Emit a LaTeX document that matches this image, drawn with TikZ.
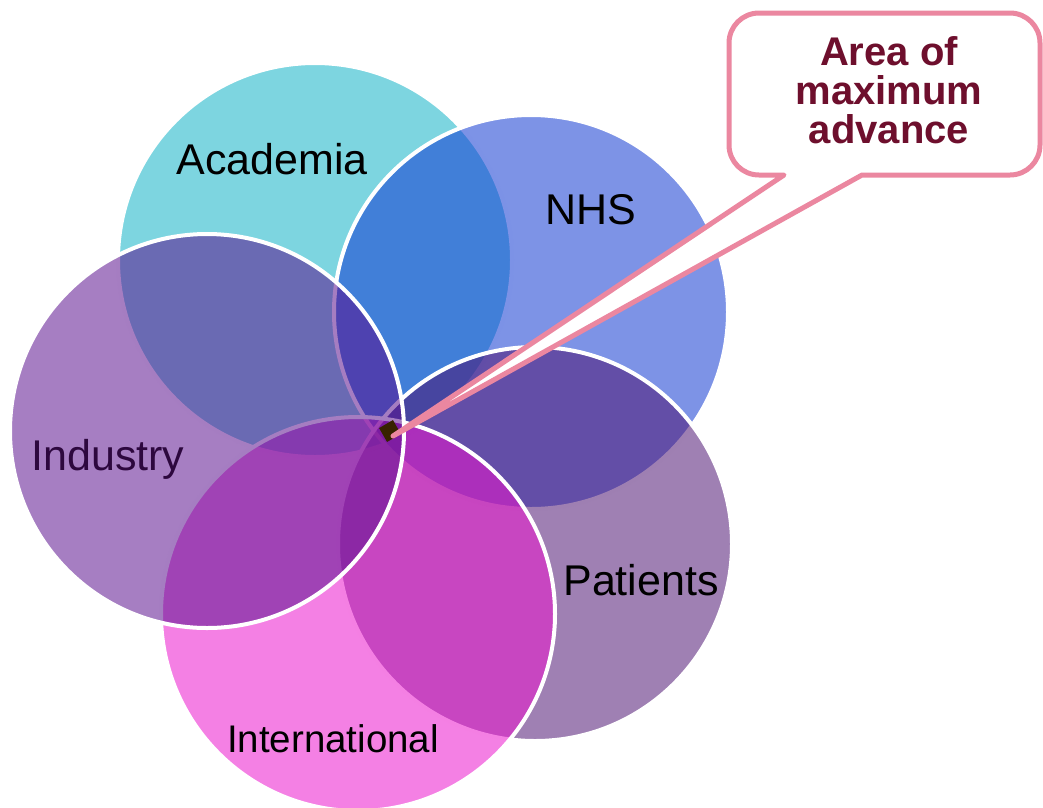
\documentclass[tikz,border=0pt]{standalone}
\usepackage{fontspec}
\setmainfont{Liberation Sans}
\definecolor{cAcad}{RGB}{14,177,198}
\definecolor{cNHS}{RGB}{14,55,209}
\definecolor{cInd}{RGB}{90,16,142}
\definecolor{cPat}{RGB}{77,20,114}
\definecolor{cInt}{RGB}{235,20,205}
\definecolor{calloutpink}{RGB}{235,135,160}
\definecolor{callouttext}{RGB}{110,15,45}
\definecolor{marker}{RGB}{55,35,0}
\definecolor{indtext}{RGB}{45,8,62}
\begin{document}
\begin{tikzpicture}[x=1pt,y=-1pt,
  ring/.style={circle, inner sep=0pt, outer sep=0pt, minimum size=394pt,
    draw=white, line width=4pt, fill opacity=0.54, draw opacity=1},
  label/.style={anchor=base, inner sep=0pt, font=\fontsize{43}{50}\selectfont},
  callout/.style={draw=calloutpink, fill=white, line width=5pt, line join=round},
]
\useasboundingbox (0,0) rectangle (1043,807);

% overlapping circles, lowest first
\node[ring, fill=cAcad] (acad) at (315,260) {};
\node[ring, fill=cNHS]  (nhs)  at (531,312) {};
\node[ring, fill=cPat]  (pat)  at (535,544) {};
\node[ring, fill=cInt]  (intl) at (358,614) {};
\node[ring, fill=cInd]  (ind)  at (207,431) {};

% circle labels
\node[label] (lacad) at (272,174) {Academia};
\node[label] (lnhs)  at (591,224) {NHS};
\node[label, text=indtext] (lind) at (108,470) {Industry};
\node[label] (lpat)  at (641,595) {Patients};
\node[label, font=\fontsize{38.5}{46}\selectfont] (lint) at (333,752) {International};

% marker where all circles meet
\node[fill=marker, minimum size=16pt, inner sep=0pt, rotate=30] (mark) at (390,431) {};
\coordinate (tip) at (393,436);

% speech bubble pointing at the marker
\path[callout] (885,13) [rounded corners=30pt] -- (729,13) -- (729,175)
  [sharp corners] -- (784,175) -- (tip) -- (862,175)
  [rounded corners=30pt] -- (1040,175) -- (1040,13) -- cycle;
\node[align=center, text=callouttext, font=\bfseries\fontsize{40}{39}\selectfont]
  (calltext) at (889,90) {Area of\\maximum\\advance};
\end{tikzpicture}
\end{document}
